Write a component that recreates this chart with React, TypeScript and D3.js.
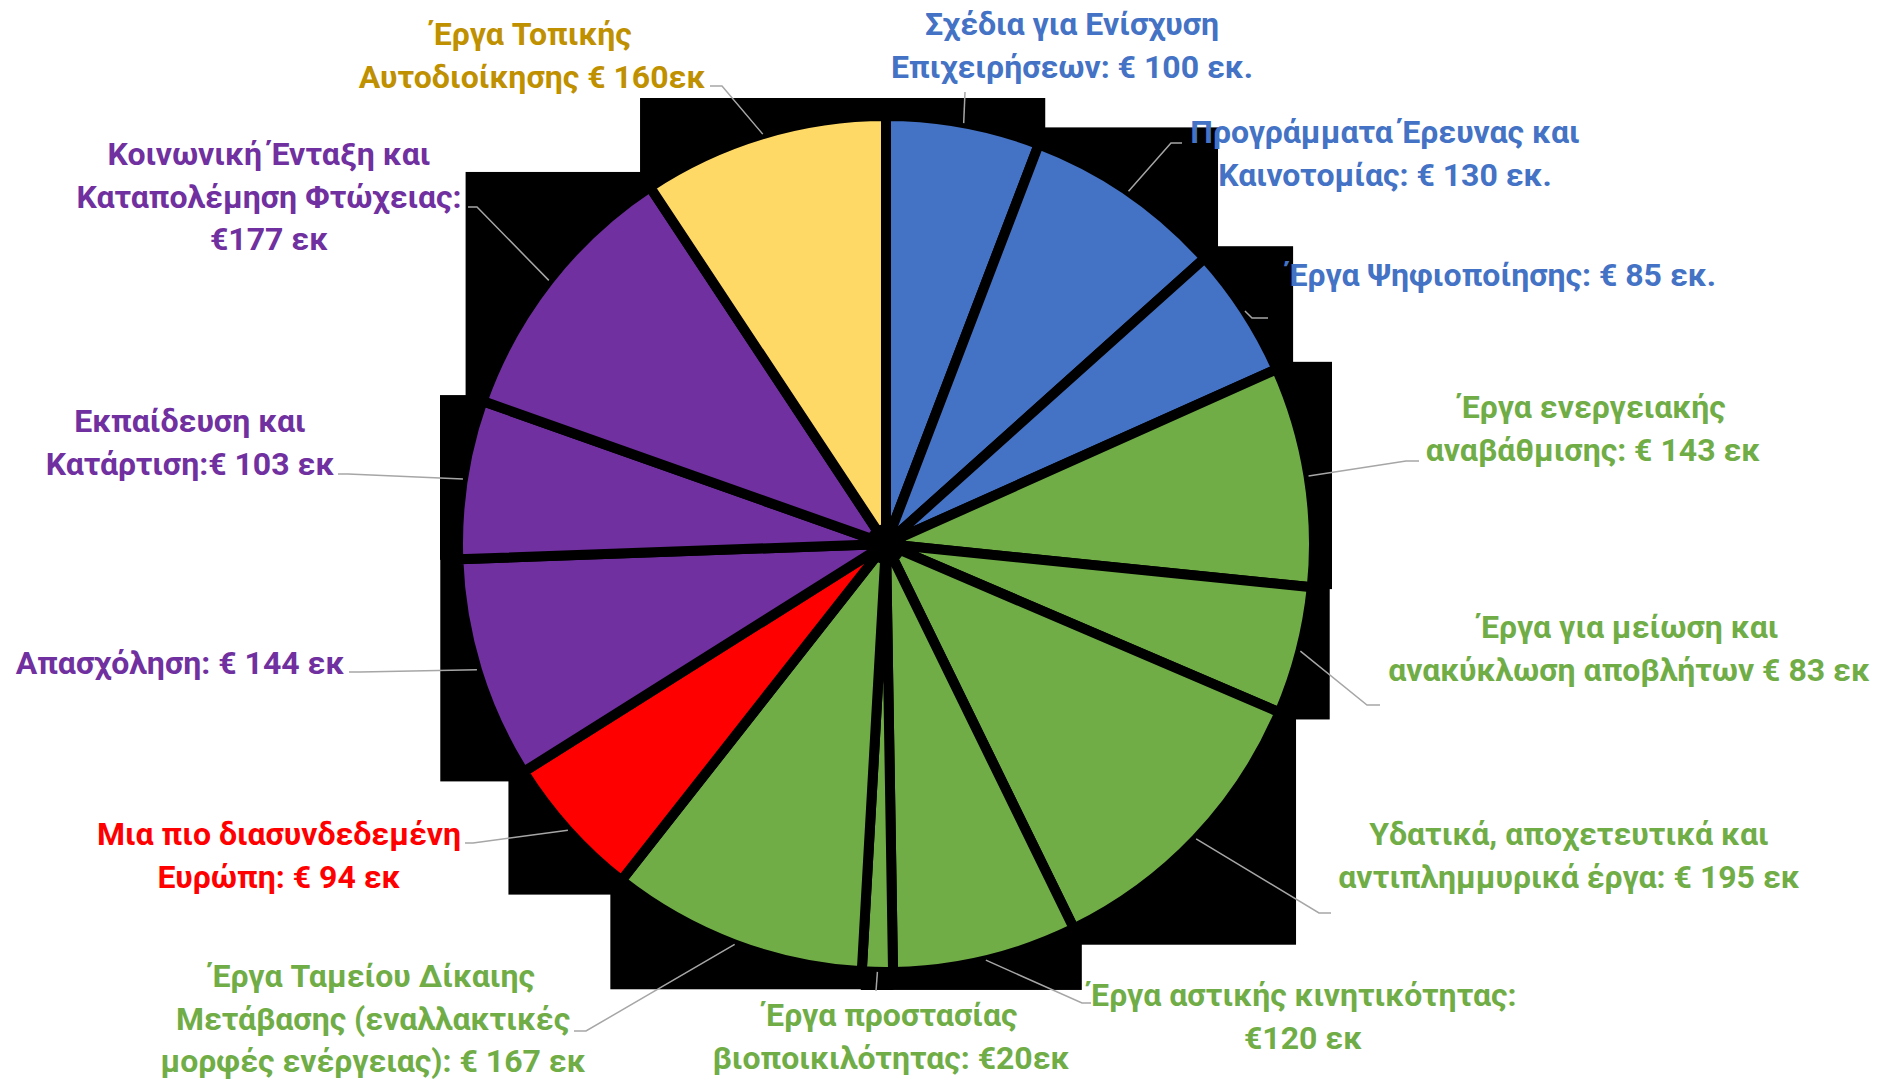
import React from "react";
import * as d3 from "d3";

const categories: string[][] = [
  ["Σχέδια για Ενίσχυση", "Επιχειρήσεων: € 100 εκ."],
  ["Προγράμματα Έρευνας και", "Καινοτομίας: € 130 εκ."],
  ["Έργα Ψηφιοποίησης: € 85 εκ."],
  ["Έργα ενεργειακής", "αναβάθμισης: € 143 εκ"],
  ["Έργα για μείωση και", "ανακύκλωση αποβλήτων € 83 εκ"],
  ["Υδατικά, αποχετευτικά και", "αντιπλημμυρικά έργα: € 195 εκ"],
  ["Έργα αστικής κινητικότητας:", "€120 εκ"],
  ["Έργα προστασίας", "βιοποικιλότητας: €20εκ"],
  ["Έργα Ταμείου Δίκαιης", "Μετάβασης (εναλλακτικές", "μορφές ενέργειας): € 167 εκ"],
  ["Μια πιο διασυνδεδεμένη", "Ευρώπη: € 94 εκ"],
  ["Απασχόληση: € 144 εκ"],
  ["Εκπαίδευση και", "Κατάρτιση:€ 103 εκ"],
  ["Κοινωνική Ένταξη και", "Καταπολέμηση Φτώχειας:", "€177 εκ"],
  ["Έργα Τοπικής", "Αυτοδιοίκησης € 160εκ"],
];

const values: number[] = [100, 130, 85, 143, 83, 195, 120, 20, 167, 94, 144, 103, 177, 160];

const groups: string[] = [
  "blue", "blue", "blue",
  "green", "green", "green", "green", "green", "green",
  "red",
  "purple", "purple", "purple",
  "yellow",
];

const sliceColors: Record<string, string> = {
  blue: "#4472C4",
  green: "#70AD47",
  red: "#FF0000",
  purple: "#7030A0",
  yellow: "#FFD966",
};
const textColors: Record<string, string> = {
  blue: "#4472C4",
  green: "#70AD47",
  red: "#FF0000",
  purple: "#7030A0",
  yellow: "#BF9000",
};

// label layout: [centerX, firstLineCenterY, elbowX, elbowY, endX]
const labelLayout: number[][] = [
  [1072, 24, 965, 92, 965],
  [1385, 132, 1171, 143, 1182],
  [1502, 275, 1252, 318, 1268],
  [1593, 407, 1406, 461, 1419],
  [1629, 627, 1367, 705, 1380],
  [1569, 834, 1319, 913, 1331],
  [1303, 995, 1082, 1003, 1091],
  [891, 1015, 876, 991, 876],
  [373, 976, 586, 1031, 574],
  [279, 834, 473, 843, 465],
  [180, 663, 360, 672, 349],
  [190, 421, 348, 474, 338],
  [269, 154, 477, 207, 468],
  [532, 34, 722, 86, 710],
];

const W = 1888;
const H = 1081;
const CX = 886;
const CY = 544;
const R = 428;
const R_BOX = 446;
const FONT = 32;
const LINE_H = 42.5;

function sectorBox(a0: number, a1: number, r: number) {
  const pts: [number, number][] = [[0, 0]];
  const add = (a: number) => pts.push([r * Math.sin(a), -r * Math.cos(a)]);
  add(a0);
  add(a1);
  for (let k = 0; k <= 4; k++) {
    const c = (k * Math.PI) / 2;
    if (c > a0 && c < a1) add(c);
  }
  const xs = pts.map((p) => p[0]);
  const ys = pts.map((p) => p[1]);
  return { x0: d3.min(xs)!, x1: d3.max(xs)!, y0: d3.min(ys)!, y1: d3.max(ys)! };
}

export default function App() {
  const pie = d3.pie<number>().sort(null).value((d) => d)(values);
  const arc = d3.arc<d3.PieArcDatum<number>>().innerRadius(0).outerRadius(R);

  return (
    <svg
      width={W}
      height={H}
      style={{ position: "fixed", left: 0, top: 0, background: "#fff" }}
      fontFamily="'Liberation Sans Narrow', 'Roboto', sans-serif"
      fontWeight="bold"
    >
      <g transform={`translate(${CX},${CY})`}>
        {pie.map((p, i) => {
          const b = sectorBox(p.startAngle, p.endAngle, R_BOX);
          return (
            <rect key={"b" + i} x={b.x0} y={b.y0} width={b.x1 - b.x0} height={b.y1 - b.y0} fill="#000" />
          );
        })}
        <circle r={22} fill="#000" />
        {pie.map((p, i) => (
          <path
            key={"s" + i}
            d={arc(p) || ""}
            fill={sliceColors[groups[i]]}
            stroke="#000"
            strokeWidth={10}
            strokeLinejoin="miter"
          />
        ))}
        <circle r={20} fill="#000" />
      </g>
      {pie.map((p, i) => {
        const mid = (p.startAngle + p.endAngle) / 2;
        const sx = CX + R * Math.sin(mid);
        const sy = CY - R * Math.cos(mid);
        const [, , ex, ey, endX] = labelLayout[i];
        return (
          <polyline
            key={"l" + i}
            points={`${sx},${sy} ${ex},${ey} ${endX},${ey}`}
            fill="none"
            stroke="#A6A6A6"
            strokeWidth={1.5}
          />
        );
      })}
      {categories.map((lines, i) => {
        const [lx, ly] = labelLayout[i];
        return (
          <text key={"t" + i} textAnchor="middle" fontSize={FONT} fill={textColors[groups[i]]}>
            {lines.map((ln, j) => (
              <tspan key={j} x={lx} y={ly + j * LINE_H} dy="0.35em">
                {ln}
              </tspan>
            ))}
          </text>
        );
      })}
    </svg>
  );
}
